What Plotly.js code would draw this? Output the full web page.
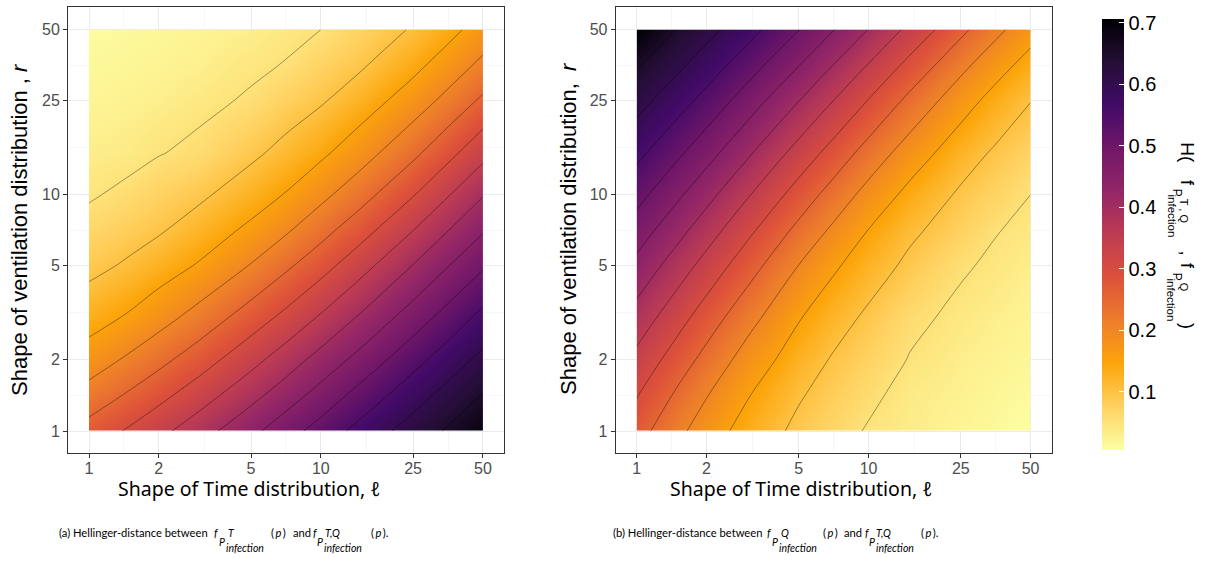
<!DOCTYPE html>
<html>
<head>
<meta charset="utf-8">
<script src="https://cdn.plot.ly/plotly-3.0.1.min.js"></script>
<style>html,body{margin:0;padding:0;background:#fff;}</style>
</head>
<body>
<div id="chart" style="width:1208px;height:561px;"></div>
<script>
// Shape parameters of the gamma distributions on the evaluation grid
const shapeTime = [1, 1.5, 2, 3, 5, 7, 10, 15, 25, 35, 50];   // ℓ (columns)
const shapeVent = [1, 1.5, 2, 3, 5, 7, 10, 15, 25, 35, 50];   // r (rows)
const tickShapes = [1, 2, 5, 10, 25, 50];
const tickLabels = ['1', '2', '5', '10', '25', '50'];
const colorTicks = [0.1, 0.2, 0.3, 0.4, 0.5, 0.6, 0.7];

// (a) Hellinger distance between f_{P^T} and f_{P^{T,Q}}; one row per r
const hellingerTvsTQ = [
  [0.269, 0.307, 0.336, 0.379, 0.437, 0.478, 0.520, 0.568, 0.622, 0.655, 0.690],
  [0.212, 0.249, 0.277, 0.319, 0.376, 0.416, 0.460, 0.511, 0.572, 0.609, 0.646],
  [0.174, 0.209, 0.236, 0.277, 0.334, 0.374, 0.418, 0.468, 0.533, 0.574, 0.613],
  [0.130, 0.157, 0.182, 0.220, 0.275, 0.313, 0.357, 0.409, 0.475, 0.519, 0.565],
  [0.087, 0.107, 0.126, 0.155, 0.203, 0.240, 0.281, 0.333, 0.402, 0.447, 0.494],
  [0.067, 0.083, 0.096, 0.122, 0.162, 0.194, 0.234, 0.283, 0.351, 0.399, 0.447],
  [0.045, 0.061, 0.074, 0.092, 0.125, 0.152, 0.187, 0.232, 0.297, 0.345, 0.397],
  [0.032, 0.037, 0.048, 0.060, 0.091, 0.113, 0.141, 0.180, 0.239, 0.284, 0.335],
  [0.020, 0.026, 0.030, 0.040, 0.055, 0.076, 0.095, 0.126, 0.174, 0.213, 0.259],
  [0.015, 0.019, 0.023, 0.029, 0.043, 0.052, 0.073, 0.096, 0.138, 0.172, 0.213],
  [0.010, 0.014, 0.017, 0.022, 0.030, 0.040, 0.050, 0.073, 0.104, 0.134, 0.171]
];

// (b) Hellinger distance between f_{P^Q} and f_{P^{T,Q}}; one row per r
const hellingerQvsTQ = [
  [0.270, 0.212, 0.175, 0.131, 0.089, 0.068, 0.046, 0.034, 0.021, 0.014, 0.005],
  [0.308, 0.247, 0.207, 0.157, 0.107, 0.084, 0.062, 0.037, 0.027, 0.019, 0.012],
  [0.336, 0.276, 0.234, 0.180, 0.125, 0.096, 0.074, 0.048, 0.031, 0.024, 0.016],
  [0.379, 0.318, 0.275, 0.217, 0.153, 0.120, 0.091, 0.060, 0.040, 0.030, 0.022],
  [0.436, 0.375, 0.332, 0.272, 0.199, 0.158, 0.123, 0.090, 0.055, 0.043, 0.030],
  [0.475, 0.415, 0.372, 0.311, 0.236, 0.191, 0.148, 0.109, 0.075, 0.052, 0.040],
  [0.517, 0.459, 0.416, 0.355, 0.279, 0.231, 0.183, 0.137, 0.093, 0.072, 0.050],
  [0.563, 0.509, 0.469, 0.408, 0.331, 0.282, 0.230, 0.177, 0.122, 0.094, 0.072],
  [0.618, 0.571, 0.534, 0.477, 0.401, 0.351, 0.298, 0.238, 0.171, 0.134, 0.101],
  [0.654, 0.609, 0.575, 0.522, 0.450, 0.399, 0.346, 0.285, 0.212, 0.169, 0.131],
  [0.706, 0.647, 0.616, 0.569, 0.501, 0.453, 0.399, 0.338, 0.262, 0.214, 0.169]
];

// Reversed inferno ramp (light yellow = small distance, black = large)
const infernoRev = [
  [0.0, '#FCFFA4'], [0.1, '#FFD262'], [0.2, '#FCA50A'], [0.3, '#ED7D2C'],
  [0.4, '#DD513A'], [0.5, '#BD3C53'], [0.6, '#932667'], [0.7, '#711768'],
  [0.8, '#420A68'], [0.9, '#250E36'], [1.0, '#000004']
];

const W = 1208, H = 561;
const px = v => v / W;
const py = v => 1 - v / H;

const logX = shapeTime.map(Math.log10);
const logY = shapeVent.map(Math.log10);
const majorLog = tickShapes.map(Math.log10);
const minorLog = majorLog.slice(1).map((v, i) => (v + majorLog[i]) / 2);

// shared colour range = range of all computed distances
const allValues = hellingerTvsTQ.concat(hellingerQvsTQ).flat();
const zLow = Math.min(...allValues);
const zHigh = Math.max(...allValues);

function panel(z, xa, ya) {
  return {
    type: 'contour', x: logX, y: logY, z: z, xaxis: xa, yaxis: ya,
    coloraxis: 'coloraxis',
    contours: { start: 0.05, end: 0.65, size: 0.05, coloring: 'heatmap', showlines: true },
    line: { color: 'rgba(0,0,0,0.55)', width: 0.7, smoothing: 1 },
    hoverinfo: 'skip'
  };
}

function axis(domain, range, standoff) {
  return {
    domain: domain, range: range, type: 'linear',
    tickmode: 'array', tickvals: majorLog, ticktext: tickLabels,
    tickfont: { family: 'Liberation Sans, Arial, sans-serif', size: 16, color: '#4D4D4D' },
    ticks: 'outside', ticklen: 4, tickwidth: 1, tickcolor: '#333333',
    ticklabelstandoff: standoff,
    showline: true, mirror: true, linecolor: '#333333', linewidth: 1,
    showgrid: true, gridcolor: '#EBEBEB', gridwidth: 1, zeroline: false,
    minor: { tickvals: minorLog, showgrid: true, gridcolor: '#F2F2F2', gridwidth: 0.6, ticks: '' },
    fixedrange: true
  };
}

const xRange = [-0.0906, 1.79];
const yRange = [-0.0931, 1.7943];

const ann = [];
function txt(text, x, y, opt) {
  opt = opt || {};
  ann.push({
    text: text, x: px(x), y: py(y), xref: 'paper', yref: 'paper', showarrow: false,
    xanchor: opt.xa || 'left', yanchor: opt.ya || 'middle', textangle: opt.angle || 0,
    font: { family: opt.family || 'Lato, sans-serif', size: opt.size || 11.2, color: opt.color || '#000000' },
    borderpad: 0
  });
}

// axis titles
const xTitle = 'Shape of Time distribution, ℓ';
txt(xTitle, 249, 488, { xa: 'center', family: 'Noto Sans, sans-serif', size: 19.5 });
txt(xTitle, 801, 488, { xa: 'center', family: 'Noto Sans, sans-serif', size: 19.5 });
txt('Shape of ventilation distribution , <i>r</i>', 20, 230,
    { xa: 'center', angle: -90, family: 'Liberation Sans, Arial, sans-serif', size: 22 });
txt('Shape of ventilation distribution,\u00a0 <i>r</i>', 568, 229,
    { xa: 'center', angle: -90, family: 'Liberation Sans, Arial, sans-serif', size: 22 });

// sub-captions
function caption(tag, x0, pieces) {
  txt(tag + ' Hellinger-distance between', x0, 532.5);
  pieces.forEach(p => txt(p[0], p[1], p[2], { size: p[3] || 11.2 }));
}
caption('(a)', 58, [
  ['<i>f</i>', 212.5, 532.5], ['<i>P</i>', 217.5, 541.5, 10.5], ['<i>T</i>', 226.5, 533, 10.5],
  ['<i>infection</i>', 225, 548, 10.5], ['(\u2009<i>p</i>\u2009)', 270, 532.5],
  ['and', 292, 532.5], ['<i>f</i>', 312.5, 532.5], ['<i>P</i>', 315.5, 541.5, 10.5],
  ['<i>T,Q</i>', 323.5, 533, 10.5], ['<i>infection</i>', 323, 548, 10.5],
  ['(\u2009<i>p</i>\u2009).', 370, 532.5]
]);
caption('(b)', 612, [
  ['<i>f</i>', 766.5, 532.5], ['<i>P</i>', 771.5, 541.5, 10.5], ['<i>Q</i>', 780, 533, 10.5],
  ['<i>infection</i>', 778, 548, 10.5], ['(\u2009<i>p</i>\u2009)', 822, 532.5],
  ['and', 843, 532.5], ['<i>f</i>', 864, 532.5], ['<i>P</i>', 867.5, 541.5, 10.5],
  ['<i>T,Q</i>', 875, 533, 10.5], ['<i>infection</i>', 875, 548, 10.5],
  ['(\u2009<i>p</i>\u2009).', 919.5, 532.5]
]);

// colour bar title, written top to bottom
const cbf = 'Liberation Sans, Arial, sans-serif';
function vt(text, xc, top, size) {
  txt(text, xc, top, { xa: 'center', ya: 'top', angle: 90, family: cbf, size: size });
}
vt('H(', 1187.2, 141, 19);
vt('f', 1186.9, 179, 18);
vt('P', 1177.2, 188, 12);
vt('T , Q', 1184.8, 198, 11);
vt('infection', 1171, 193, 11.5);
vt(',', 1186.9, 250, 18);
vt('f', 1186.9, 262, 18);
vt('P', 1177.2, 272, 12);
vt('Q', 1184.8, 282, 11);
vt('infection', 1171, 277, 11.5);
vt(')', 1186.9, 322, 18);

const layout = {
  width: W, height: H, autosize: false,
  margin: { l: 0, r: 0, t: 0, b: 0, pad: 0 },
  paper_bgcolor: '#ffffff', plot_bgcolor: '#ffffff',
  showlegend: false,
  xaxis: Object.assign(axis([px(68), px(504)], xRange, -3), { anchor: 'y' }),
  yaxis: Object.assign(axis([py(453), py(7)], yRange, 0), { anchor: 'x' }),
  xaxis2: Object.assign(axis([px(615.7), px(1051.7)], xRange, -3), { anchor: 'y2' }),
  yaxis2: Object.assign(axis([py(453), py(7)], yRange, 0), { anchor: 'x2' }),
  coloraxis: {
    colorscale: infernoRev, cauto: false, cmin: zLow, cmax: zHigh,
    colorbar: {
      x: px(1101.7), xanchor: 'left', xpad: 0,
      y: py(234.5), yanchor: 'middle', ypad: 0,
      len: 431, lenmode: 'pixels', thickness: 22, thicknessmode: 'pixels',
      outlinewidth: 0,
      tickmode: 'array', tickvals: colorTicks, ticktext: colorTicks.map(v => v.toFixed(1)),
      ticks: 'inside', ticklen: 5, tickwidth: 1, tickcolor: '#ffffff',
      tickfont: { family: cbf, size: 20, color: '#000000' }
    }
  },
  annotations: ann
};

Plotly.newPlot('chart', [panel(hellingerTvsTQ, 'x', 'y'), panel(hellingerQvsTQ, 'x2', 'y2')],
  layout, { staticPlot: true, displayModeBar: false });
</script>
</body>
</html>
